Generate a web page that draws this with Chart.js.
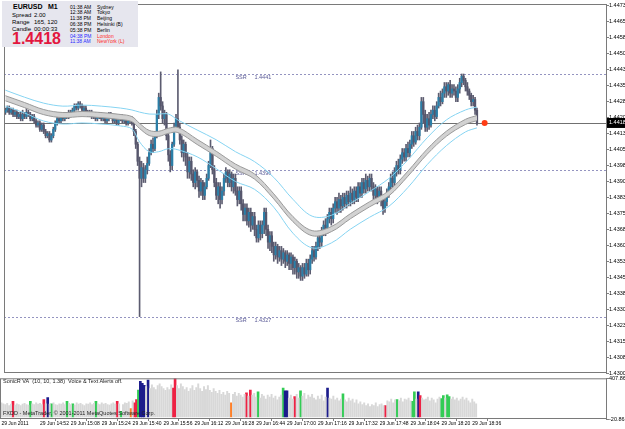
<!DOCTYPE html>
<html>
<head>
<meta charset="utf-8">
<script src="https://cdn.jsdelivr.net/npm/chart.js@4.4.0/dist/chart.umd.min.js"></script>
<style>
body { margin:0; background:#fff; width:625px; height:429px; overflow:hidden; position:relative; font-family:"Liberation Sans", Arial, sans-serif; }
#c1 { position:absolute; left:0; top:0; z-index:2; }
#c2 { position:absolute; left:0; top:375px; z-index:1; }
#info { position:absolute; left:2px; top:1px; width:136px; height:46px; background:#e6e6ee; z-index:3; }
#info span { position:absolute; white-space:nowrap; line-height:1; }
.note { position:absolute; left:3px; font-size:5.5px; line-height:1; z-index:3; white-space:nowrap; color:#222; }
</style>
</head>
<body>
<canvas id="c1" width="625" height="381"></canvas>
<canvas id="c2" width="625" height="54"></canvas>
<div id="info"></div>
<div class="note" style="top:379px">SonicR VA&nbsp; (10, 10, 1.38)&nbsp; Voice &amp; Text Alerts off.</div>
<div class="note" style="top:411px">FXDD - MetaTrader, © 2001-2011 MetaQuotes Software Corp.</div>
<script>
// EURUSD M1, one bar per minute from 14:32
const opens = [
  1.4423,1.4424,1.4425,1.4423,1.4424,1.4422,1.4423,1.4421,1.4422,1.4420,
  1.4422,1.4421,1.4423,1.4422,1.4420,1.4421,1.4419,1.4417,1.4418,1.4415,
  1.4417,1.4414,1.4412,1.4413,1.4410,1.4412,1.4415,1.4418,1.4420,1.4419,
  1.4421,1.4420,1.4422,1.4421,1.4423,1.4422,1.4424,1.4426,1.4425,1.4427,
  1.4426,1.4424,1.4425,1.4423,1.4422,1.4423,1.4421,1.4422,1.4420,1.4421,
  1.4422,1.4420,1.4421,1.4419,1.4420,1.4422,1.4421,1.4419,1.4420,1.4418,
  1.4420,1.4421,1.4419,1.4420,1.4418,1.4419,1.4420,
  1.4418,1.4414,1.4408,1.4400,1.4392,1.4397,1.4392,1.4396,1.4399,1.4404,
  1.4408,1.4406,1.4412,1.4422,1.4430,1.4426,1.4420,1.4422,1.4412,1.4403,
  1.4398,1.4408,1.4416,1.4420,1.4416,1.4410,1.4404,1.4408,1.4402,1.4395,
  1.4400,1.4394,1.4390,1.4395,1.4391,1.4386,1.4390,1.4384,1.4388,1.4392,
  1.4398,1.4406,1.4396,1.4390,1.4384,1.4388,1.4382,1.4386,1.4392,1.4395,
  1.4390,1.4394,1.4388,1.4392,1.4386,1.4382,1.4386,1.4380,1.4375,1.4378,
  1.4372,1.4376,1.4370,1.4374,1.4368,1.4364,1.4370,1.4366,1.4370,1.4376,
  1.4368,1.4362,1.4365,1.4360,1.4356,1.4360,1.4355,1.4358,1.4354,1.4357,
  1.4353,1.4356,1.4352,1.4355,1.4350,1.4353,1.4348,1.4350,1.4346,1.4350,
  1.4347,1.4352,1.4349,1.4354,1.4358,1.4355,1.4360,1.4364,1.4362,1.4367,
  1.4370,1.4368,1.4373,1.4376,1.4373,1.4378,1.4381,1.4378,1.4382,1.4379,
  1.4383,1.4380,1.4384,1.4381,1.4385,1.4382,1.4386,1.4383,1.4388,1.4385,
  1.4390,1.4387,1.4391,1.4388,1.4392,1.4388,1.4384,1.4387,1.4383,1.4386,
  1.4382,1.4378,1.4381,1.4385,1.4388,1.4392,1.4390,1.4395,1.4398,1.4396,
  1.4401,1.4404,1.4402,1.4406,1.4404,1.4408,1.4412,1.4409,1.4414,1.4412,
  1.4416,1.4428,1.4422,1.4416,1.4420,1.4417,1.4422,1.4424,1.4421,1.4426,
  1.4430,1.4428,1.4432,1.4435,1.4433,1.4436,1.4432,1.4434,1.4433,1.4430,
  1.4434,1.4437,1.4440,1.4438,1.4435,1.4433,1.4431,1.4428,1.4429,1.4424
];
const highs = [
  1.4425,1.4426,1.4426,1.4425,1.4425,1.4424,1.4424,1.4423,1.4423,1.4424,
  1.4423,1.4425,1.4424,1.4423,1.4422,1.4422,1.4420,1.4419,1.4419,1.4418,
  1.4418,1.4415,1.4414,1.4414,1.4413,1.4416,1.4419,1.4421,1.4421,1.4422,
  1.4422,1.4423,1.4423,1.4424,1.4424,1.4425,1.4427,1.4427,1.4428,1.4428,
  1.4427,1.4426,1.4426,1.4424,1.4424,1.4424,1.4423,1.4423,1.4422,1.4423,
  1.4423,1.4422,1.4422,1.4421,1.4423,1.4423,1.4422,1.4421,1.4421,1.4421,
  1.4422,1.4422,1.4421,1.4421,1.4420,1.4421,1.4421,
  1.4419,1.4415,1.4409,1.4402,1.4400,1.4399,1.4398,1.4402,1.4406,1.4410,
  1.4411,1.4414,1.4424,1.4432,1.4442,1.4428,1.4424,1.4423,1.4413,1.4405,
  1.4409,1.4418,1.4422,1.4443,1.4418,1.4412,1.4410,1.4409,1.4404,1.4402,
  1.4402,1.4396,1.4397,1.4396,1.4393,1.4392,1.4391,1.4390,1.4394,1.4400,
  1.4410,1.4407,1.4398,1.4392,1.4390,1.4390,1.4388,1.4394,1.4397,1.4396,
  1.4396,1.4395,1.4394,1.4394,1.4388,1.4388,1.4388,1.4382,1.4380,1.4380,
  1.4378,1.4378,1.4376,1.4376,1.4370,1.4372,1.4372,1.4372,1.4378,1.4378,
  1.4370,1.4367,1.4367,1.4362,1.4362,1.4361,1.4360,1.4360,1.4359,1.4358,
  1.4358,1.4357,1.4357,1.4356,1.4355,1.4354,1.4352,1.4351,1.4352,1.4352,
  1.4354,1.4354,1.4356,1.4360,1.4360,1.4362,1.4366,1.4367,1.4369,1.4372,
  1.4373,1.4375,1.4378,1.4378,1.4380,1.4383,1.4383,1.4385,1.4384,1.4385,
  1.4385,1.4386,1.4386,1.4388,1.4387,1.4388,1.4388,1.4390,1.4390,1.4392,
  1.4392,1.4394,1.4393,1.4394,1.4394,1.4390,1.4389,1.4388,1.4388,1.4388,
  1.4384,1.4383,1.4387,1.4390,1.4394,1.4395,1.4397,1.4400,1.4401,1.4403,
  1.4406,1.4406,1.4408,1.4409,1.4410,1.4414,1.4414,1.4416,1.4417,1.4418,
  1.4430,1.4430,1.4424,1.4422,1.4423,1.4424,1.4426,1.4426,1.4428,1.4432,
  1.4433,1.4434,1.4437,1.4437,1.4437,1.4438,1.4436,1.4436,1.4435,1.4436,
  1.4439,1.4441,1.4441,1.4439,1.4437,1.4434,1.4432,1.4431,1.4430,1.4425
];
const lows = [
  1.4422,1.4423,1.4422,1.4422,1.4421,1.4421,1.4420,1.4420,1.4419,1.4419,
  1.4420,1.4420,1.4421,1.4419,1.4419,1.4418,1.4416,1.4416,1.4414,1.4414,
  1.4413,1.4411,1.4411,1.4409,1.4409,1.4411,1.4414,1.4417,1.4418,1.4418,
  1.4419,1.4419,1.4420,1.4420,1.4421,1.4421,1.4423,1.4424,1.4424,1.4425,
  1.4423,1.4423,1.4422,1.4421,1.4421,1.4420,1.4420,1.4419,1.4419,1.4420,
  1.4419,1.4419,1.4418,1.4418,1.4419,1.4420,1.4418,1.4418,1.4417,1.4417,
  1.4419,1.4418,1.4418,1.4417,1.4417,1.4418,1.4417,
  1.4412,1.4406,1.4398,1.4327,1.4388,1.4390,1.4390,1.4394,1.4398,1.4403,
  1.4404,1.4405,1.4411,1.4420,1.4424,1.4418,1.4417,1.4410,1.4400,1.4395,
  1.4396,1.4407,1.4414,1.4414,1.4408,1.4402,1.4400,1.4398,1.4392,1.4392,
  1.4391,1.4388,1.4387,1.4388,1.4383,1.4384,1.4382,1.4382,1.4387,1.4391,
  1.4397,1.4394,1.4388,1.4382,1.4380,1.4378,1.4380,1.4384,1.4390,1.4388,
  1.4388,1.4386,1.4385,1.4384,1.4379,1.4380,1.4377,1.4372,1.4372,1.4370,
  1.4369,1.4367,1.4368,1.4365,1.4362,1.4362,1.4363,1.4364,1.4366,1.4365,
  1.4359,1.4358,1.4357,1.4353,1.4354,1.4352,1.4353,1.4351,1.4352,1.4350,
  1.4351,1.4349,1.4349,1.4347,1.4347,1.4345,1.4345,1.4344,1.4344,1.4345,
  1.4346,1.4346,1.4347,1.4352,1.4353,1.4354,1.4358,1.4359,1.4360,1.4365,
  1.4365,1.4366,1.4371,1.4370,1.4371,1.4376,1.4375,1.4376,1.4376,1.4377,
  1.4378,1.4378,1.4379,1.4379,1.4380,1.4380,1.4381,1.4381,1.4383,1.4383,
  1.4385,1.4385,1.4386,1.4386,1.4386,1.4382,1.4382,1.4380,1.4381,1.4379,
  1.4375,1.4376,1.4379,1.4383,1.4386,1.4388,1.4388,1.4393,1.4394,1.4394,
  1.4399,1.4400,1.4400,1.4402,1.4402,1.4406,1.4407,1.4408,1.4410,1.4410,
  1.4415,1.4418,1.4414,1.4414,1.4415,1.4416,1.4420,1.4419,1.4420,1.4425,
  1.4426,1.4427,1.4430,1.4430,1.4431,1.4430,1.4430,1.4431,1.4428,1.4428,
  1.4432,1.4435,1.4436,1.4433,1.4431,1.4429,1.4426,1.4426,1.4422,1.4417
];
const closes = [
  1.4424,1.4425,1.4423,1.4424,1.4422,1.4423,1.4421,1.4422,1.4420,1.4422,
  1.4421,1.4423,1.4422,1.4420,1.4421,1.4419,1.4417,1.4418,1.4415,1.4417,
  1.4414,1.4412,1.4413,1.4410,1.4412,1.4415,1.4418,1.4420,1.4419,1.4421,
  1.4420,1.4422,1.4421,1.4423,1.4422,1.4424,1.4426,1.4425,1.4427,1.4426,
  1.4424,1.4425,1.4423,1.4422,1.4423,1.4421,1.4422,1.4420,1.4421,1.4422,
  1.4420,1.4421,1.4419,1.4420,1.4422,1.4421,1.4419,1.4420,1.4418,1.4420,
  1.4421,1.4419,1.4420,1.4418,1.4419,1.4420,1.4418,
  1.4414,1.4408,1.4400,1.4392,1.4397,1.4392,1.4396,1.4399,1.4404,1.4408,
  1.4406,1.4412,1.4422,1.4430,1.4426,1.4420,1.4422,1.4412,1.4403,1.4398,
  1.4408,1.4416,1.4420,1.4416,1.4410,1.4404,1.4408,1.4402,1.4395,1.4400,
  1.4394,1.4390,1.4395,1.4391,1.4386,1.4390,1.4384,1.4388,1.4392,1.4398,
  1.4406,1.4396,1.4390,1.4384,1.4388,1.4382,1.4386,1.4392,1.4395,1.4390,
  1.4394,1.4388,1.4392,1.4386,1.4382,1.4386,1.4380,1.4375,1.4378,1.4372,
  1.4376,1.4370,1.4374,1.4368,1.4364,1.4370,1.4366,1.4370,1.4376,1.4368,
  1.4362,1.4365,1.4360,1.4356,1.4360,1.4355,1.4358,1.4354,1.4357,1.4353,
  1.4356,1.4352,1.4355,1.4350,1.4353,1.4348,1.4350,1.4346,1.4350,1.4347,
  1.4352,1.4349,1.4354,1.4358,1.4355,1.4360,1.4364,1.4362,1.4367,1.4370,
  1.4368,1.4373,1.4376,1.4373,1.4378,1.4381,1.4378,1.4382,1.4379,1.4383,
  1.4380,1.4384,1.4381,1.4385,1.4382,1.4386,1.4383,1.4388,1.4385,1.4390,
  1.4387,1.4391,1.4388,1.4392,1.4388,1.4384,1.4387,1.4383,1.4386,1.4382,
  1.4378,1.4381,1.4385,1.4388,1.4392,1.4390,1.4395,1.4398,1.4396,1.4401,
  1.4404,1.4402,1.4406,1.4404,1.4408,1.4412,1.4409,1.4414,1.4412,1.4416,
  1.4428,1.4422,1.4416,1.4420,1.4417,1.4422,1.4424,1.4421,1.4426,1.4430,
  1.4428,1.4432,1.4435,1.4433,1.4436,1.4432,1.4434,1.4433,1.4430,1.4434,
  1.4437,1.4440,1.4438,1.4435,1.4433,1.4431,1.4428,1.4429,1.4424,1.4418
];

// SonicR VA volume histogram
const volumes = [
  150,140,130,145,120,135,165,125,140,130, 120,135,145,130,125,165,140,130,150,135,
  145,130,185,140,205,135,140,150,130,125, 140,135,150,130,165,145,130,140,125,150,
  135,145,130,120,140,135,150,130,145,165, 140,130,150,135,145,130,125,140,150,135,
  165,140,60,130,150,145,160,90,170,150,   185,285,375,355,335,320,390,300,340,310,
  290,330,350,320,300,280,310,290,340,305, 405,330,300,350,320,290,310,270,300,330,
  280,310,350,300,270,320,290,330,280,260, 300,270,250,280,240,260,230,270,250,150,
  240,260,220,250,230,210,240,255,220,285, 230,250,210,265,200,240,220,190,230,210,
  240,200,220,180,210,230,305,275,275,200, 230,190,215,240,200,275,220,250,190,230,
  210,240,200,180,220,190,230,170,210,305, 200,190,220,180,200,170,190,245,180,160,
  200,170,190,150,180,140,160,130,150,120, 140,110,130,120,150,110,130,140,120,120,
  170,160,190,150,180,185,170,200,160,190, 180,200,170,165,265,190,265,225,200,180,
  190,210,170,200,180,150,190,210,195,225, 200,235,215,190,210,180,200,170,190,210,
  180,200,170,150,190,160,140
];
const redBars = [6,22,60,69,70,89,90,127,129,152,199,217];
const greenBars = [15,26,34,37,49,62,71,133,146,155,177,205,213,214,228,229,231,232];
const blueBars = [24,72,73,74,76,147,148,169,216];
const orangeBars = [67,119];

// moving average band (dragon) and outer envelope, read every few bars
const maIdx = [0,10,20,30,40,50,60,66,70,75,80,85,90,100,110,120,130,140,150,160,170,180,190,200,210,220,230,240,246];
const dragonHigh = [1.44308,1.44276,1.44243,1.44229,1.44234,1.44229,1.44220,1.44210,1.44178,1.44145,1.44141,1.44155,1.44159,1.44103,1.44047,1.43987,1.43940,1.43847,1.43740,1.43674,1.43693,1.43754,1.43810,1.43861,1.43954,1.44057,1.44141,1.44197,1.44215];
const dragonLow = [1.44284,1.44252,1.44219,1.44205,1.44210,1.44205,1.44196,1.44186,1.44154,1.44121,1.44117,1.44131,1.44135,1.44079,1.44023,1.43963,1.43916,1.43823,1.43716,1.43650,1.43669,1.43730,1.43786,1.43837,1.43930,1.44033,1.44117,1.44173,1.44191];
const bandUpper = [1.44334,1.44301,1.44273,1.44259,1.44264,1.44259,1.44250,1.44241,1.44231,1.44222,1.44222,1.44222,1.44194,1.44147,1.44101,1.44045,1.43998,1.43924,1.43821,1.43742,1.43746,1.43802,1.43858,1.43919,1.44007,1.44110,1.44194,1.44241,1.44255];
const bandLower = [1.44259,1.44227,1.44189,1.44175,1.44180,1.44175,1.44166,1.44152,1.44091,1.44045,1.44045,1.44059,1.44054,1.44021,1.43965,1.43905,1.43868,1.43784,1.43662,1.43593,1.43616,1.43681,1.43737,1.43788,1.43877,1.43984,1.44073,1.44138,1.44157];

const ssrLevels = [1.4441, 1.4396, 1.4327];
const ssrLabelBar = 120;
const currentPrice = 1.4418;
const markerBar = 250;

const priceTicks = [1.43005,1.43080,1.43155,1.43230,1.43305,1.43380,1.43455,1.43530,1.43605,1.43680,1.43755,1.43830,
  1.43905,1.43980,1.44055,1.44130,1.44205,1.44280,1.44355,1.44430,1.44505,1.44580,1.44655,1.44730];
const volTicks = [-20.86, 407.86];
const timeTickIdx = [0,20,36,52,68,84,100,116,132,148,164,180,196,212,228,244];
const timeLabels = ['29 Jun 2011','29 Jun 14:52','29 Jun 15:08','29 Jun 15:24','29 Jun 15:40','29 Jun 15:56','29 Jun 16:12',
  '29 Jun 16:28','29 Jun 16:44','29 Jun 17:00','29 Jun 17:16','29 Jun 17:32','29 Jun 17:48','29 Jun 18:04','29 Jun 18:20','29 Jun 18:36'];

const zoneTimes = ['01:38 AM','12:38 AM','11:38 PM','06:38 PM','05:38 PM','04:38 PM','11:38 AM'];
const zoneNames = ['Sydney','Tokyo','Beijing','Helsinki (B)','Berlin','London','NewYork (L)'];

const xMin = -0.725, xMax = 313.3;
const small = { size: 5.5, family: 'Liberation Sans' };
const tiny = { size: 5, family: 'Liberation Sans' };

// info panel
const info = document.getElementById('info');
function put(text, x, y, css) {
  const s = document.createElement('span');
  s.textContent = text;
  s.style.cssText = css + ';left:' + x + 'px;top:' + y + 'px';
  info.appendChild(s);
}
const f6 = 'font:6px "Liberation Sans"';
put('EURUSD', 11, 2, 'font:bold 7px "Liberation Sans"');
put('M1', 46, 2, 'font:bold 7px "Liberation Sans"');
put('Spread', 10, 10.5, f6); put('2.00', 32, 10.5, f6);
put('Range', 10, 17.5, f6); put('165, 120', 32, 17.5, f6);
put('Candle', 10, 24.5, f6); put('00:00:33', 32, 24.5, f6);
put(currentPrice.toFixed(4), 10, 28.5, 'font:bold 16px "Liberation Sans";color:#e3173e');
zoneTimes.forEach((t, k) => {
  const hot = k >= 5;
  put(t, 68, 2.5 + k * 5.83, 'font:5px "Liberation Sans";color:' + (hot ? '#2626ff' : '#000'));
  put(zoneNames[k], 95, 2.5 + k * 5.83, 'font:5px "Liberation Sans";color:' + (hot ? '#ff2a2a' : '#000'));
});

const frame = {
  id: 'frame',
  afterDraw(chart) {
    const { ctx, chartArea: a } = chart;
    ctx.save();
    ctx.strokeStyle = '#7a7a7a';
    ctx.lineWidth = 1;
    ctx.strokeRect(a.left + 0.5, a.top + 0.5, a.right - a.left, a.bottom - a.top - 1);
    ctx.restore();
  }
};

const levels = {
  id: 'levels',
  beforeDatasetsDraw(chart) {
    const { ctx, chartArea: a, scales: { x, y } } = chart;
    ctx.save();
    ctx.lineWidth = 1;
    ctx.strokeStyle = '#9494c0';
    ctx.setLineDash([2, 2]);
    ssrLevels.forEach(v => {
      const py = Math.round(y.getPixelForValue(v)) + 0.5;
      ctx.beginPath(); ctx.moveTo(a.left, py); ctx.lineTo(a.right, py); ctx.stroke();
    });
    ctx.setLineDash([]);
    ctx.strokeStyle = '#707070';
    const bid = Math.round(y.getPixelForValue(currentPrice)) + 0.5;
    ctx.beginPath(); ctx.moveTo(a.left, bid); ctx.lineTo(a.right, bid); ctx.stroke();
    ctx.fillStyle = '#5a5a96';
    ctx.font = '5.5px "Liberation Sans"';
    ctx.textBaseline = 'top';
    const lx = x.getPixelForValue(ssrLabelBar);
    ssrLevels.forEach(v => {
      const py = y.getPixelForValue(v);
      ctx.fillText('SSR', lx, py + 1);
      ctx.fillText(v.toFixed(4), lx + 19, py + 1);
    });
    ctx.restore();
  },
  afterDraw(chart) {
    const { ctx, chartArea: a, scales: { y } } = chart;
    const py = y.getPixelForValue(currentPrice);
    ctx.save();
    ctx.fillStyle = '#000';
    ctx.fillRect(a.right + 1, py - 5, 24, 10);
    ctx.fillStyle = '#fff';
    ctx.font = '5.5px "Liberation Sans"';
    ctx.textBaseline = 'middle';
    ctx.fillText(currentPrice.toFixed(5), a.right + 3, py);
    ctx.restore();
  }
};

const pts = arr => maIdx.map((x, k) => ({ x, y: arr[k] }));
const wickData = highs.map((h, i) => ({ x: i, y: [lows[i], h] }));
const bodyData = opens.map((o, i) => ({ x: i, y: [o, closes[i]] }));
const bodyColors = opens.map((o, i) => closes[i] > o ? '#2a7fa8' : '#56566c');

new Chart(document.getElementById('c1'), {
  type: 'bar',
  data: {
    datasets: [
      { type: 'scatter', data: [{ x: markerBar, y: currentPrice }], pointRadius: 3, backgroundColor: '#ff3c14', borderWidth: 0, order: -1 },
      { type: 'line', data: pts(bandUpper), borderColor: '#86d4f2', borderWidth: 1, pointRadius: 0, tension: 0.35, order: 0 },
      { type: 'line', data: pts(bandLower), borderColor: '#86d4f2', borderWidth: 1, pointRadius: 0, tension: 0.35, order: 0 },
      { type: 'line', data: pts(dragonHigh), borderColor: '#9a9a9a', borderWidth: 1, pointRadius: 0, tension: 0.35, fill: false, order: 0 },
      { type: 'line', data: pts(dragonLow), borderColor: '#9a9a9a', borderWidth: 1, pointRadius: 0, tension: 0.35, fill: '-1', backgroundColor: '#d2d2d2', order: 0 },
      { data: wickData, backgroundColor: '#5c5c70', barThickness: 1, grouped: false, order: 2 },
      { data: bodyData, backgroundColor: bodyColors, barThickness: 1.6, minBarLength: 1, grouped: false, order: 1 }
    ]
  },
  options: {
    responsive: false,
    animation: false,
    devicePixelRatio: 1,
    layout: { padding: { top: 1, bottom: 8, left: 0, right: 0 } },
    plugins: { legend: { display: false }, tooltip: { enabled: false } },
    scales: {
      x: { type: 'linear', min: xMin, max: xMax, display: false, offset: false },
      y: {
        position: 'right', min: 1.43005, max: 1.44739,
        afterBuildTicks: s => { s.ticks = priceTicks.map(v => ({ value: v })); },
        afterFit: s => { s.width = 19; },
        ticks: { font: small, color: '#000', padding: 0, autoSkip: false, callback: v => v.toFixed(5) },
        grid: { drawOnChartArea: false, tickLength: 3, color: '#808080' },
        border: { display: false }
      }
    }
  },
  plugins: [levels, frame]
});

// volume panel
const catOf = i => redBars.includes(i) ? '#ee2244' : greenBars.includes(i) ? '#33cc55'
  : blueBars.includes(i) ? '#1c1c8c' : orangeBars.includes(i) ? '#ff7f27' : null;
const grayVol = volumes.map((v, i) => ({ x: i, y: catOf(i) ? null : v }));
const colorVol = volumes.map((v, i) => ({ x: i, y: catOf(i) ? v : null }));

new Chart(document.getElementById('c2'), {
  type: 'bar',
  data: {
    datasets: [
      { data: grayVol, backgroundColor: '#d8d8d8', barThickness: 1.3, grouped: false },
      { data: colorVol, backgroundColor: ctx => catOf(ctx.dataIndex) || '#d8d8d8', barThickness: 2, grouped: false }
    ]
  },
  options: {
    responsive: false,
    animation: false,
    devicePixelRatio: 1,
    layout: { padding: { top: 2, bottom: 0, left: 0, right: 0 } },
    plugins: { legend: { display: false }, tooltip: { enabled: false } },
    scales: {
      x: {
        type: 'linear', min: xMin, max: xMax, offset: false,
        afterBuildTicks: s => { s.ticks = timeTickIdx.map(v => ({ value: v })); },
        afterFit: s => { s.height = 10; },
        ticks: { autoSkip: false, maxRotation: 0, minRotation: 0, align: 'start', padding: 0, font: tiny, color: '#000',
          callback: v => timeLabels[timeTickIdx.indexOf(v)] },
        grid: { drawOnChartArea: false, tickLength: 2, color: '#808080' },
        border: { display: false }
      },
      y: {
        position: 'right', min: -20.86, max: 407.86,
        afterBuildTicks: s => { s.ticks = volTicks.map(v => ({ value: v })); },
        afterFit: s => { s.width = 19; },
        ticks: { font: small, color: '#000', padding: 0, callback: v => v.toFixed(2) },
        grid: { drawOnChartArea: false, tickLength: 3, color: '#808080' },
        border: { display: false }
      }
    }
  },
  plugins: [frame]
});
</script>
</body>
</html>
